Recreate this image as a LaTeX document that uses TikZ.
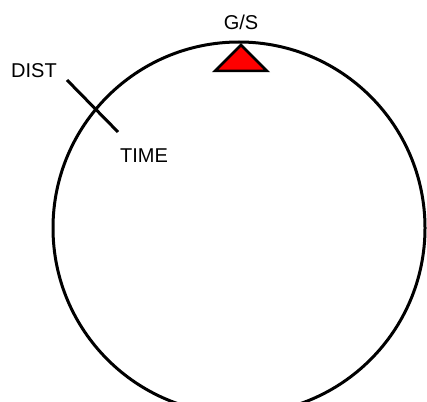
\documentclass[tikz,border=0pt]{standalone}
\usepackage{fontspec}
\setmainfont{Liberation Sans}
\begin{document}
\begin{tikzpicture}[x=1pt, y=-1pt, font=\fontsize{20}{24}\selectfont]
            \useasboundingbox (0,0) rectangle (427,401);
            \clip (0,0) rectangle (427,401);
            \draw[line width=3pt] (239,228) circle (186pt);
            \filldraw[fill=red, line width=2.5pt] (241,45) -- (267,71) -- (215,71) -- cycle;
            \node (gs) at (241,22) {G/S};
            \draw[line width=3pt] (67,80) -- (118,132);
            \node (dist) at (34,71) {DIST};
            \node (time) at (144,156) {TIME};
        \end{tikzpicture}
\end{document}
